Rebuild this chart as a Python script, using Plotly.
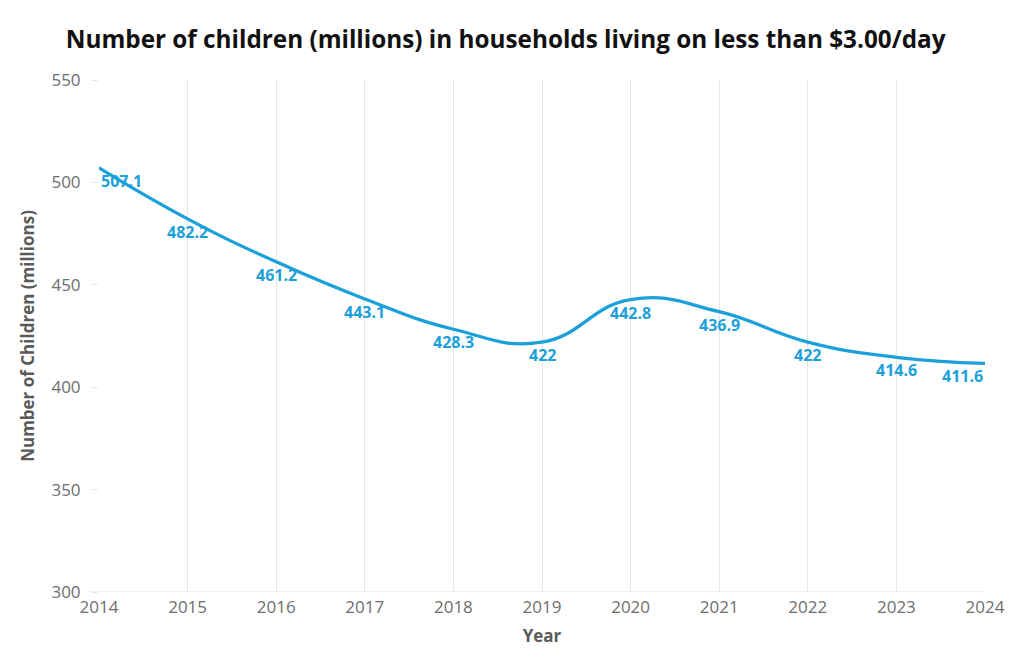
import plotly.graph_objects as go

years = [2014, 2015, 2016, 2017, 2018, 2019, 2020, 2021, 2022, 2023, 2024]
children = [507.1, 482.2, 461.2, 443.1, 428.3, 422, 442.8, 436.9, 422, 414.6, 411.6]
labels = ["507.1", "482.2", "461.2", "443.1", "428.3", "422", "442.8", "436.9", "422", "414.6", "411.6"]
y_ticks = [300, 350, 400, 450, 500, 550]

line_color = "#1BA0DA"

fig = go.Figure()
fig.add_trace(go.Scatter(
    x=years, y=children, mode="lines",
    line=dict(color=line_color, width=3.3, shape="spline", smoothing=1.3),
    hoverinfo="x+y", showlegend=False,
))

n = len(years)
for i, (x, y, t) in enumerate(zip(years, children, labels)):
    if i == 0:
        anchor = "left"
    elif i == n - 1:
        anchor = "right"
    else:
        anchor = "center"
    fig.add_annotation(
        x=x, y=y, text=t, showarrow=False,
        xanchor=anchor, yanchor="middle", yshift=-13,
        font=dict(family="Open Sans", size=16, color=line_color, weight=700),
    )

fig.update_layout(
    width=1024, height=666,
    margin=dict(l=91, r=47, t=72, b=82),
    paper_bgcolor="white", plot_bgcolor="white",
    title=dict(
        text="Number of children (millions) in households living on less than $3.00/day",
        x=0.486, xanchor="center", y=0.953, yanchor="middle",
        font=dict(family="Open Sans", size=24.3, color="#111111", weight=700),
    ),
    font=dict(family="Open Sans", color="#6e6e6e"),
)
fig.update_xaxes(
    range=[2014, 2024], tickvals=years, ticktext=[str(y) for y in years],
    showgrid=True, gridcolor="#e6e6e6", gridwidth=1,
    showline=False, zeroline=False,
    tickfont=dict(size=17, color="#6e6e6e"),
    ticks="", ticklabelstandoff=3,
    title=dict(text="Year", font=dict(size=17, color="#5a5a5a", weight=700), standoff=13),
)
fig.update_yaxes(
    range=[300, 550], tickvals=y_ticks,
    showgrid=False, zeroline=False,
    showline=False,
    tickfont=dict(size=17, color="#6e6e6e"),
    ticks="outside", ticklen=6, tickcolor="#e6e6e6",
    ticklabelstandoff=8,
    title=dict(text="Number of Children (millions)", font=dict(size=17, color="#5a5a5a", weight=700), standoff=12),
)
fig.add_shape(type="line", xref="paper", yref="y", x0=-0.012, x1=1, y0=300, y1=300,
              line=dict(color="#e0e0e0", width=1))

fig.write_html("out.html")
